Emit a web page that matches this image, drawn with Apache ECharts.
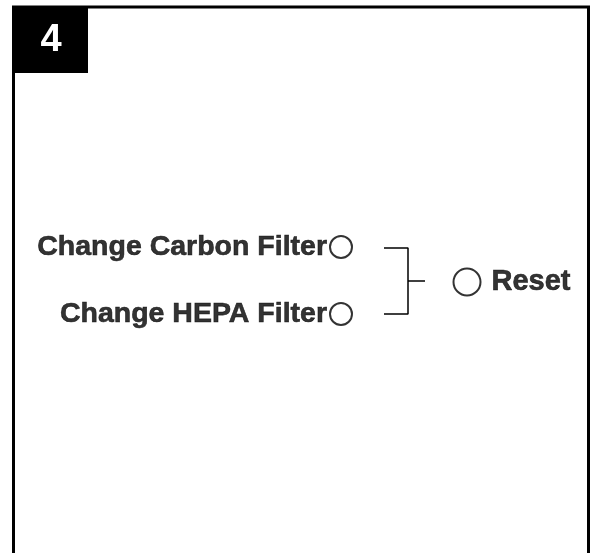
<!DOCTYPE html>
<html>
<head>
<meta charset="utf-8">
<script src="https://cdn.jsdelivr.net/npm/echarts@6/dist/echarts.min.js"></script>
<style>
  html, body { margin: 0; padding: 0; background: #fff; }
  #chart { width: 592px; height: 553px; }
</style>
</head>
<body>
<div id="chart"></div>
<script>
// panel number
const panelLabel = '4';
// buttons: name, x, y (diagram units = px of the 592x553 panel)
const buttonNames = ['Change Carbon Filter', 'Change HEPA Filter', 'Reset'];
const buttonX = [341, 341, 467];
const buttonY = [247, 314, 282];
// bracket joining the two filter buttons to Reset
const bracketPath = [[384, 248], [408, 248], [408, 314], [384, 314]];
const bracketTick = [[408, 281], [425, 281]];

let myChart = echarts.init(document.getElementById('chart'));

let points = buttonNames.map(function (n, i) {
    let left = i < 2;
    return {
        value: [buttonX[i], buttonY[i]],
        symbolSize: left ? 22 : 27,
        label: {
            show: true,
            formatter: n,
            position: left ? 'left' : 'right',
            distance: left ? 2 : 10,
            fontFamily: 'Liberation Sans, Arial, sans-serif',
            fontWeight: 'bold',
            fontSize: left ? 28.5 : 29,
            color: '#000',
            textBorderColor: '#000',
            textBorderWidth: 0.6
        }
    };
});

let option = {
    animation: false,
    backgroundColor: '#fff',
    grid: { left: 0, right: 0, top: 0, bottom: 0 },
    xAxis: { type: 'value', min: 0, max: 592, show: false },
    yAxis: { type: 'value', min: 0, max: 553, inverse: true, show: false },
    graphic: [
        {
            type: 'polyline',
            shape: { points: [[13.5, 553], [13.5, 7], [588.5, 7], [588.5, 553]] },
            style: { stroke: '#000', lineWidth: 3, fill: null }
        },
        {
            type: 'rect',
            shape: { x: 12, y: 6, width: 76, height: 67 },
            style: { fill: '#000' }
        },
        {
            type: 'text',
            x: 51, y: 41,
            style: {
                text: panelLabel,
                fill: '#fff',
                font: 'bold 38px "Liberation Sans", Arial, sans-serif',
                align: 'center',
                verticalAlign: 'middle'
            }
        }
    ],
    series: [
        {
            type: 'line',
            data: bracketPath,
            symbol: 'none',
            lineStyle: { color: '#000', width: 1.5 }
        },
        {
            type: 'line',
            data: bracketTick,
            symbol: 'none',
            lineStyle: { color: '#000', width: 1.5 }
        },
        {
            type: 'scatter',
            data: points,
            symbol: 'circle',
            itemStyle: { color: '#fff', borderColor: '#000', borderWidth: 2 }
        }
    ]
};
myChart.setOption(option);
</script>
</body>
</html>
